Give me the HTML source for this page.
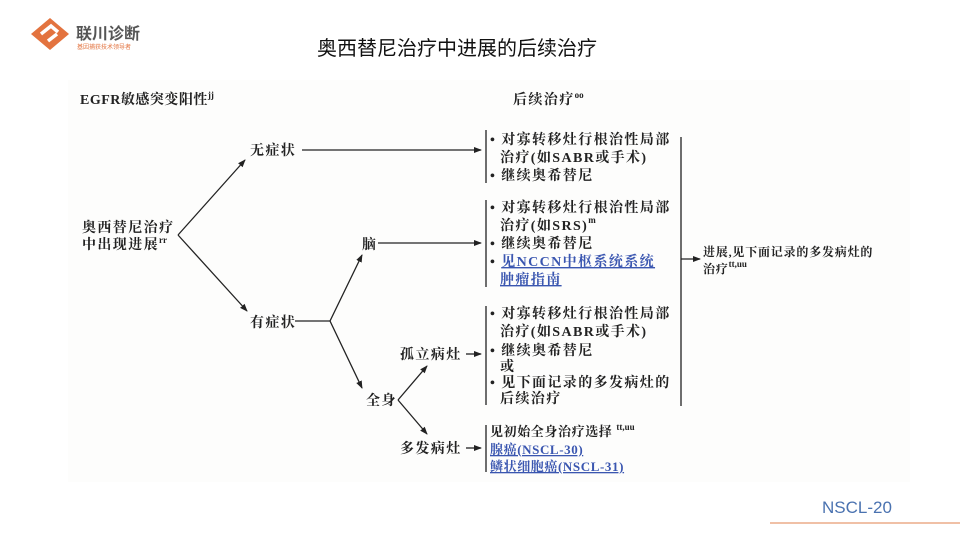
<!DOCTYPE html>
<html><head><meta charset="utf-8"><style>
html,body{margin:0;padding:0;background:#fff;width:960px;height:540px;overflow:hidden}
svg{display:block}
.t{font-family:"Liberation Serif","Noto Serif CJK SC",serif;font-weight:bold;font-size:14px;fill:#222;letter-spacing:1.4px}
.l{fill:#3a56b0;text-decoration:underline}
.s{font-size:9px;letter-spacing:0}
</style></head><body>
<svg width="960" height="540" viewBox="0 0 960 540" xmlns="http://www.w3.org/2000/svg">
<defs><marker id="a" markerWidth="8" markerHeight="8" refX="7" refY="4" orient="auto" markerUnits="userSpaceOnUse"><path d="M0,1 L8,4 L0,7 Z" fill="#222"/></marker></defs>
<rect x="68" y="80" width="842" height="402" fill="#fdfdfc"/>
<!-- logo -->
<g transform="translate(50,34)">
<path d="M-19,0 L0,-16 L19,0 L0,16 Z" fill="#e3733f"/>
<path d="M-9,0 L1,-8 L8,-2" fill="none" stroke="#fff" stroke-width="3.5"/>
<path d="M-2,7 L7,0" stroke="#fff" stroke-width="3.5"/>
</g>
<text x="76" y="39" font-family="'Noto Sans CJK SC',sans-serif" font-weight="bold" font-size="16" fill="#555">联川诊断</text>
<text x="77" y="49" font-family="'Noto Sans CJK SC',sans-serif" font-size="6" fill="#e3733f">基因捕获技术领导者</text>
<text x="457" y="55" text-anchor="middle" font-family="'Noto Sans CJK SC',sans-serif" font-size="20" fill="#111">奥西替尼治疗中进展的后续治疗</text>

<text class="t" x="80" y="104" style="letter-spacing:0.5px">EGFR敏感突变阳性<tspan class="s" dy="-6">jj</tspan></text>
<text class="t" x="513" y="104">后续治疗<tspan class="s" dy="-6">oo</tspan></text>

<g stroke="#222" stroke-width="1.3" fill="none">
<line x1="302" y1="150" x2="481" y2="150" marker-end="url(#a)"/>
<line x1="178" y1="235" x2="245" y2="160" marker-end="url(#a)"/>
<line x1="178" y1="235" x2="247" y2="311" marker-end="url(#a)"/>
<line x1="295" y1="321" x2="330" y2="321"/>
<line x1="330" y1="321" x2="362" y2="255" marker-end="url(#a)"/>
<line x1="330" y1="321" x2="362" y2="388" marker-end="url(#a)"/>
<line x1="378" y1="243" x2="481" y2="243" marker-end="url(#a)"/>
<line x1="398" y1="400" x2="427" y2="366" marker-end="url(#a)"/>
<line x1="398" y1="400" x2="427" y2="434" marker-end="url(#a)"/>
<line x1="466" y1="354" x2="481" y2="354" marker-end="url(#a)"/>
<line x1="466" y1="448" x2="481" y2="448" marker-end="url(#a)"/>
<line x1="486" y1="130" x2="486" y2="183"/>
<line x1="486" y1="200" x2="486" y2="287"/>
<line x1="486" y1="306" x2="486" y2="405"/>
<line x1="486" y1="425" x2="486" y2="472"/>
<line x1="681" y1="137" x2="681" y2="406"/>
<line x1="681" y1="259" x2="700" y2="259" marker-end="url(#a)"/>
</g>

<text class="t" x="250" y="155">无症状</text>
<text class="t" x="82" y="232">奥西替尼治疗</text>
<text class="t" x="82" y="249">中出现进展<tspan class="s" dy="-6">rr</tspan></text>
<text class="t" x="250" y="327">有症状</text>
<text class="t" x="362" y="249">脑</text>
<text class="t" x="366" y="405">全身</text>
<text class="t" x="400" y="359">孤立病灶</text>
<text class="t" x="400" y="453">多发病灶</text>

<text class="t" x="490" y="144">• 对寡转移灶行根治性局部</text>
<text class="t" x="500" y="162">治疗(如SABR或手术)</text>
<text class="t" x="490" y="180">• 继续奥希替尼</text>

<text class="t" x="490" y="212">• 对寡转移灶行根治性局部</text>
<text class="t" x="500" y="230">治疗(如SRS)<tspan class="s" dy="-7">m</tspan></text>
<text class="t" x="490" y="248">• 继续奥希替尼</text>
<text class="t" x="490" y="266">• <tspan class="l">见NCCN中枢系统系统</tspan></text>
<text class="t l" x="500" y="284">肿瘤指南</text>

<text class="t" x="490" y="318">• 对寡转移灶行根治性局部</text>
<text class="t" x="500" y="336">治疗(如SABR或手术)</text>
<text class="t" x="490" y="355">• 继续奥希替尼</text>
<text class="t" x="500" y="371">或</text>
<text class="t" x="490" y="387">• 见下面记录的多发病灶的</text>
<text class="t" x="500" y="403">后续治疗</text>

<text class="t" x="490" y="436" style="font-size:13px;letter-spacing:0.6px">见初始全身治疗选择<tspan class="s" dx="4" dy="-6">tt,uu</tspan></text>
<text class="t l" x="490" y="454" style="font-size:13px;letter-spacing:0.6px">腺癌(NSCL-30)</text>
<text class="t l" x="490" y="471" style="font-size:13px;letter-spacing:0.6px">鳞状细胞癌(NSCL-31)</text>

<text class="t" x="703" y="256" style="font-size:12px;letter-spacing:0.8px">进展,见下面记录的多发病灶的</text>
<text class="t" x="703" y="273" style="font-size:12px;letter-spacing:0.8px">治疗<tspan class="s" dy="-6">tt,uu</tspan></text>

<text x="822" y="513" font-family="'Liberation Sans',sans-serif" font-size="17" fill="#4a72b0">NSCL-20</text>
<line x1="770" y1="523" x2="960" y2="523" stroke="#e89a70" stroke-width="1.2"/>
</svg>
</body></html>
